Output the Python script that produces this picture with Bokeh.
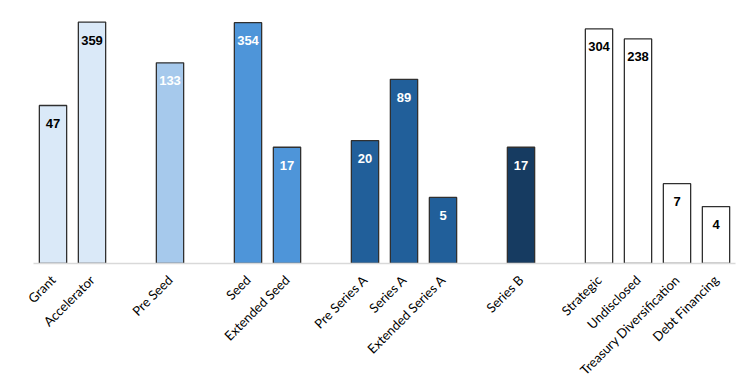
import math
from bokeh.plotting import figure
from bokeh.models import ColumnDataSource, FactorRange, Range1d
from bokeh.core.properties import value
from bokeh.embed import file_html
from bokeh.resources import INLINE

groups = ["Early", "Early", "PreSeed", "Seed", "Seed", "SeriesA", "SeriesA", "SeriesA",
          "SeriesB", "Other", "Other", "Other", "Other"]
categories = ["Grant", "Accelerator", "Pre Seed", "Seed", "Extended Seed", "Pre Series A",
              "Series A", "Extended Series A", "Series B", "Strategic", "Undisclosed",
              "Treasury Diversification", "Debt Financing"]
counts = [47, 359, 133, 354, 17, 20, 89, 5, 17, 304, 238, 7, 4]
fills = ["#DAE9F8", "#DAE9F8", "#A6C9EC", "#4E95D9", "#4E95D9", "#215F9A", "#215F9A",
         "#215F9A", "#163B61", "#FFFFFF", "#FFFFFF", "#FFFFFF", "#FFFFFF"]
label_colors = ["#000000", "#000000", "#FFFFFF", "#FFFFFF", "#FFFFFF", "#FFFFFF", "#FFFFFF",
                "#FFFFFF", "#FFFFFF", "#000000", "#000000", "#000000", "#000000"]

xs = list(zip(groups, categories))
src = ColumnDataSource(dict(x=xs, top=counts, fill=fills, lc=label_colors,
                            txt=[str(c) for c in counts]))

xr = FactorRange(*xs, group_padding=1.0, range_padding=0)
p = figure(x_range=xr, y_range=Range1d(1, 500), y_axis_type="log",
           frame_width=702, frame_height=255, output_backend="svg",
           toolbar_location=None, min_border_left=33, min_border_right=8,
           min_border_top=8, min_border_bottom=0)

p.vbar(x="x", top="top", bottom=1, width=0.7, source=src, fill_color="fill",
       line_color="#303030", line_width=1.3)
p.text(x="x", y="top", text="txt", source=src, text_color="lc",
       text_font=value("Liberation Sans"), text_font_style="bold",
       text_font_size="13px", text_align="center", text_baseline="middle",
       y_offset=18)

p.yaxis.visible = False
p.xgrid.visible = False
p.ygrid.visible = False
p.outline_line_color = None
ax = p.xaxis[0]
ax.major_label_orientation = math.pi / 4
ax.major_label_text_font = "Lato"
ax.major_label_text_font_size = "13px"
ax.major_label_text_color = "#000000"
ax.major_tick_line_color = None
ax.minor_tick_line_color = None
ax.axis_line_color = "#D9D9D9"
ax.axis_line_width = 1.5
ax.group_text_font_size = "0px"
ax.group_text_color = None
ax.separator_line_color = None
ax.major_label_standoff = 8

open("out.html", "w").write(file_html(p, INLINE))
